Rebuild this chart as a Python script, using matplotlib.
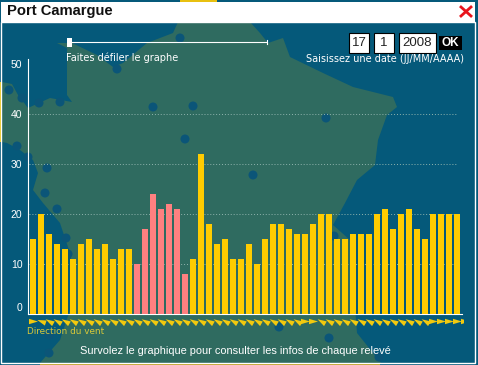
import matplotlib
matplotlib.use('Agg')
import matplotlib.pyplot as plt
from matplotlib.markers import MarkerStyle
from matplotlib.patches import Circle, Polygon, Rectangle
from matplotlib.path import Path
from matplotlib.transforms import Affine2D, ScaledTranslation

plt.rcParams['font.family'] = ['Liberation Sans', 'DejaVu Sans']

# vent, un releve par barre
vitesse = [15, 20, 16, 14, 13, 11, 14, 15, 13, 14, 11, 13, 13,
           10, 17, 24, 21, 22, 21, 8,
           11, 32, 18, 14, 15, 11, 11, 14, 10, 15, 18, 18, 17, 16, 16, 18,
           20, 20, 15, 15, 16, 16, 16, 20, 21, 17, 20, 21, 17, 15, 20, 20, 20, 20, 20]
alerte = [13, 14, 15, 16, 17, 18, 19]
direction = [0, 160] + [150] * 32 + [0, 0] + [150] * 14 + [0] * 5
graduations = [0, 10, 20, 30, 40, 50]
lignes = [10, 20, 30, 40]

# fond de carte, en pixels
france = [(178, 22), (173, 33), (147, 43), (123, 63), (113, 67), (97, 55), (72, 43), (57, 43), (67, 48),
          (67, 95), (72, 102), (50, 98), (28, 108), (18, 95), (12, 84), (2, 82), (2, 142), (7, 143),
          (20, 150), (33, 160), (38, 173), (33, 190), (43, 203), (60, 223), (70, 253), (73, 273),
          (70, 310), (60, 340), (40, 363), (381, 363), (357, 333), (350, 240), (333, 225), (345, 203),
          (357, 180), (375, 165), (378, 140), (387, 115), (397, 107), (393, 97), (353, 87), (323, 73),
          (290, 57), (283, 38), (268, 43), (260, 33), (250, 22)]
villes = [(180, 38), (117, 69), (9, 90), (22, 98), (39, 103), (60, 102), (153, 107), (193, 106),
          (326, 118), (185, 139), (253, 175), (17, 146), (28, 157), (47, 168), (45, 193),
          (57, 209), (66, 238), (68, 254), (49, 335), (49, 353), (279, 327), (329, 338),
          (379, 357), (334, 236)]

fig = plt.figure(figsize=(4.78, 3.65), dpi=100, facecolor='#05597a')

fond = fig.add_axes([0, 0, 1, 1])
fond.set_xlim(0, 478)
fond.set_ylim(365, 0)
fond.axis('off')
fond.add_patch(Rectangle((2, 22), 473, 341, fc='#05597a', ec='none'))
fond.add_patch(Polygon(france, fc='#2f6b60', ec='none'))
for v in villes:
    fond.add_patch(Circle(v, 4.5, fc='#0b5578', ec='none'))

# cadre et titre
fond.add_patch(Rectangle((40, 363), 340, 2, fc='#b89a10', ec='none'))
fond.add_patch(Rectangle((180, 0), 37, 1.5, fc='#e8c010', ec='none'))
fond.add_patch(Rectangle((0, 82), 1.2, 60, fc='#e8c010', ec='none'))
fond.add_patch(Rectangle((1.5, 22), 473.5, 341, fc='none', ec='white', lw=1))
fond.add_patch(Rectangle((1, 1.5), 474, 20.5, fc='white', ec='none'))
fond.text(7, 11.5, 'Port Camargue', fontsize=10.6, fontweight='bold', color='#111111', va='center')
fond.plot([461, 471], [7, 16], color='#e8141c', lw=2)
fond.plot([461, 471], [16, 7], color='#e8141c', lw=2)

# curseur
fond.plot([70, 267], [42, 42], color='white', lw=0.8)
fond.plot([267, 267], [40, 44], color='white', lw=0.8)
fond.add_patch(Rectangle((67, 38), 5, 9, fc='white', ec='none'))
fond.text(66, 58, 'Faites défiler le graphe', fontsize=7, color='white', va='center',
          family='DejaVu Sans')

# saisie de la date
for x, w, txt in [(349, 20, '17'), (374, 20, '1'), (399, 37, '2008')]:
    fond.add_patch(Rectangle((x, 33), w, 20, fc='white', ec='black', lw=0.8))
    fond.text(x + w / 2, 43.5, txt, fontsize=9.5, color='#222222', ha='center', va='center')
fond.add_patch(Rectangle((439, 36), 23, 14, fc='black', ec='none'))
fond.text(450.5, 43, 'OK', fontsize=8.5, fontweight='bold', color='white', ha='center', va='center')
fond.text(464, 59, 'Saisissez une date (JJ/MM/AAAA)', fontsize=7, color='white', ha='right',
          va='center', family='DejaVu Sans')

fond.text(27, 332, 'Direction du vent', fontsize=6.4, color='#d8c838', va='center',
          family='DejaVu Sans')
fond.text(235, 351, 'Survolez le graphique pour consulter les infos de chaque relevé',
          fontsize=7.9, color='white', ha='center', va='center')

# graphique : 0 a y=313.5, 5 px par unite, une barre tous les 8 px
ax = fig.add_axes([28 / 478, (365 - 313.5) / 365, 434 / 478, 254.5 / 365])
ax.patch.set_alpha(0)
ax.set_xlim(-0.625, 53.625)
ax.set_ylim(0, 50.9)
couleurs = ['#ff8080' if i in alerte else '#ffcc00' for i in range(len(vitesse))]
ax.bar(range(len(vitesse)), vitesse, width=0.79, color=couleurs, zorder=3)
for y in lignes:
    ax.plot([-0.5, 53], [y, y], color='#8fb3ad', lw=0.7, ls=(0, (1, 2)), zorder=1)

ax.spines['top'].set_visible(False)
ax.spines['right'].set_visible(False)
ax.spines['left'].set_color('white')
ax.spines['bottom'].set_color('white')
ax.set_xticks([])
ax.set_yticks(graduations)
ax.tick_params(axis='y', length=0, pad=4, labelcolor='white', labelsize=7.5)
labels = ax.get_yticklabels()
# le 0 est un peu plus haut que sa graduation
labels[0].set_transform(labels[0].get_transform() + ScaledTranslation(0, 5 / 72, fig.dpi_scale_trans))

# fleches de direction, sous l'axe (la derniere est coupee)
fleche = Path([(-1, 0.6), (1, 0), (-1, -0.6), (-1, 0.6)], closed=True)
zone = Rectangle((27, 315), 436, 12, transform=fond.transData)
for i, angle in enumerate(direction):
    marqueur = MarkerStyle(fleche, transform=Affine2D().rotate_deg(angle))
    pts = ax.plot([i], [-1.5], marker=marqueur, ms=6.5, color='#f2c90f', mew=0, clip_on=True, zorder=4)
    pts[0].set_clip_path(zone)

fig.savefig('out.png', dpi=100)
